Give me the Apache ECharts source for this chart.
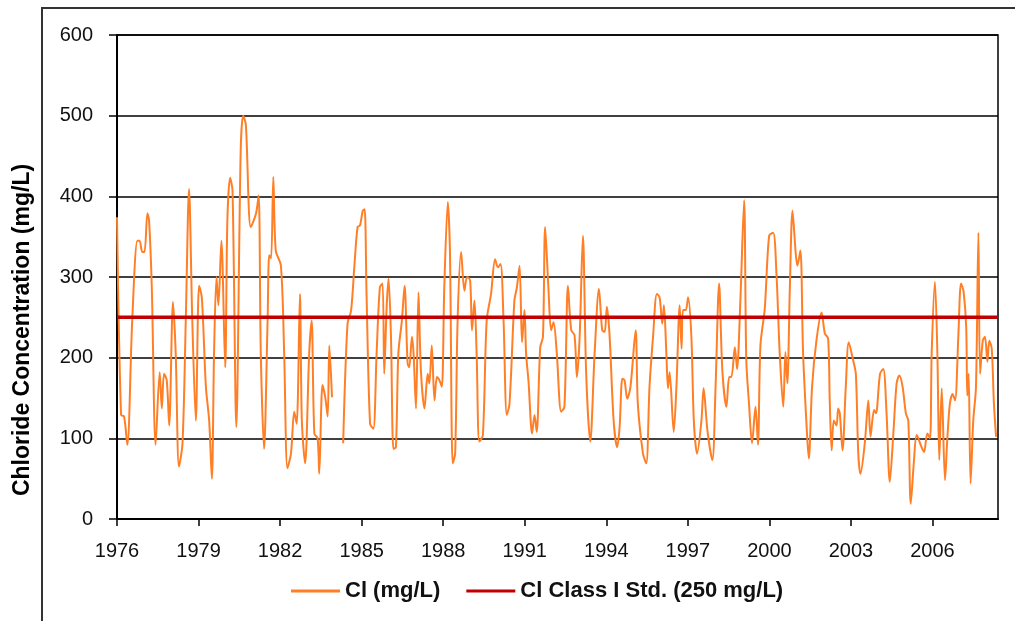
<!DOCTYPE html>
<html>
<head>
<meta charset="utf-8">
<script src="https://cdn.jsdelivr.net/npm/echarts@6/dist/echarts.min.js"></script>
<style>
html,body{margin:0;padding:0;background:#fff;}
#chart{width:1015px;height:621px;}
</style>
</head>
<body>
<div id="chart"></div>
<script>
// Decimal-year sample dates (null value = gap in record)
var years = [
1976.00,1976.15,1976.26,1976.38,1976.56,1976.75,1976.83,1976.93,1977.01,1977.12,1977.18,1977.28,1977.42,1977.57,1977.65,1977.73,1977.83,1977.92,
1978.06,1978.16,1978.28,1978.41,1978.53,1978.65,1978.77,1978.90,1979.02,1979.12,1979.27,1979.39,1979.49,1979.57,1979.66,1979.73,1979.84,1979.98,
1980.06,1980.16,1980.25,1980.39,1980.55,1980.64,1980.74,1980.92,1981.11,1981.21,1981.29,1981.41,1981.54,1981.60,1981.67,1981.75,1981.84,
1982.03,1982.15,1982.27,1982.40,1982.52,1982.61,1982.73,1982.80,1982.92,1983.07,1983.16,1983.26,1983.38,1983.44,1983.56,1983.66,1983.75,1983.81,1983.91,
1984.10,1984.32,1984.48,1984.61,1984.73,1984.85,1984.94,1985.04,1985.11,1985.18,1985.31,1985.43,1985.55,1985.67,1985.77,1985.83,1985.92,1985.99,
1986.08,1986.17,1986.26,1986.35,1986.48,1986.58,1986.69,1986.75,1986.85,1986.91,1987.00,1987.09,1987.18,1987.31,1987.43,1987.49,1987.58,1987.68,1987.77,1987.86,1987.95,
1988.04,1988.17,1988.25,1988.35,1988.44,1988.53,1988.66,1988.78,1988.88,1988.99,1989.06,1989.15,1989.23,1989.33,1989.46,1989.60,1989.76,1989.91,
1990.01,1990.11,1990.22,1990.34,1990.44,1990.62,1990.71,1990.81,1990.90,1990.99,1991.05,1991.14,1991.27,1991.36,1991.44,1991.57,1991.67,1991.75,1991.87,1991.97,
1992.06,1992.18,1992.34,1992.46,1992.59,1992.71,1992.83,1992.92,1993.02,1993.14,1993.26,1993.41,1993.57,1993.73,1993.85,1993.94,
1994.02,1994.12,1994.27,1994.40,1994.49,1994.59,1994.67,1994.77,1994.89,1995.08,1995.16,1995.35,1995.47,1995.59,1995.72,1995.86,1995.96,
1996.06,1996.12,1996.21,1996.27,1996.33,1996.48,1996.58,1996.70,1996.77,1996.82,1996.92,1997.01,1997.13,1997.22,1997.34,1997.50,1997.58,1997.72,1997.90,
1998.02,1998.15,1998.27,1998.42,1998.52,1998.60,1998.73,1998.81,1998.93,1999.07,1999.15,1999.25,1999.36,1999.49,1999.58,1999.67,1999.83,1999.99,
2000.14,2000.26,2000.38,2000.51,2000.59,2000.66,2000.75,2000.85,2000.97,2001.03,2001.14,2001.24,2001.39,2001.45,2001.57,2001.73,2001.92,
2002.04,2002.16,2002.22,2002.29,2002.37,2002.47,2002.53,2002.59,2002.69,2002.81,2002.92,2003.08,2003.18,2003.27,2003.35,2003.51,2003.64,2003.72,2003.85,2003.92,
2004.07,2004.19,2004.31,2004.43,2004.56,2004.68,2004.78,2004.90,2005.02,2005.11,2005.20,2005.32,2005.42,2005.60,2005.69,2005.81,2005.91,2005.97,
2006.09,2006.18,2006.25,2006.34,2006.46,2006.55,2006.64,2006.74,2006.83,2006.95,2007.05,2007.14,2007.24,2007.28,2007.33,2007.40,2007.50,2007.60,2007.69,2007.75,2007.85,2007.93,
2008.02,2008.09,2008.18,2008.26,2008.34
];
var chloride = [
374,129,127,92,246,345,345,331,331,379,370,287,92,182,137,180,172,116,
269,205,65,94,246,409,246,122,289,275,164,122,50,205,300,265,345,188,
370,423,407,114,456,500,489,362,378,401,205,87,246,327,323,424,333,
314,205,63,81,133,118,279,122,69,205,246,106,100,56,166,151,127,215,151,
null,94,242,258,312,362,364,382,384,279,118,112,205,287,292,180,263,298,
225,87,89,205,246,289,193,188,226,205,137,281,184,137,180,168,215,147,176,172,164,
287,393,329,69,81,246,331,283,300,296,234,271,205,96,104,246,279,322,
312,316,246,129,143,271,287,314,219,259,205,170,106,129,108,213,226,362,287,234,
244,205,133,139,289,234,228,176,226,351,180,96,205,285,234,232,
263,228,122,89,114,174,172,149,164,234,143,81,69,164,226,279,275,
242,265,205,162,182,108,164,265,211,259,259,275,226,122,81,122,162,110,73,
164,292,184,139,176,176,213,186,269,395,197,143,94,139,92,215,261,351,
355,304,205,139,207,168,283,382,329,314,333,205,102,75,164,221,256,
230,224,147,85,122,116,137,131,85,164,219,197,180,81,56,94,147,102,135,131,
180,186,131,46,106,168,178,164,131,122,19,73,104,89,83,106,100,205,
294,205,73,162,48,102,143,155,147,226,292,283,238,153,180,44,122,164,355,180,221,226,
195,221,211,143,102
];
var stdYears = [1976, 2008.41];
var stdValues = [250, 250];
var yTicks = [0, 100, 200, 300, 400, 500, 600];
var seriesNames = ['Cl (mg/L)', 'Cl Class I Std. (250 mg/L)'];
var yTitle = 'Chloride Concentration (mg/L)';

var clData = years.map(function (y, i) { return [y, chloride[i] === null ? '-' : chloride[i]]; });
var stdData = stdYears.map(function (y, i) { return [y, stdValues[i]]; });

var FONT = "'Liberation Sans', Arial, sans-serif";
var chart = echarts.init(document.getElementById('chart'), null, { renderer: 'canvas' });
chart.setOption({
  animation: false,
  backgroundColor: '#ffffff',
  grid: { left: 117, right: 17, top: 35, bottom: 102, show: true, borderColor: '#000', borderWidth: 1.5, backgroundColor: 'transparent' },
  xAxis: {
    type: 'value', min: 1976, max: 2008.41, interval: 3,
    axisLine: { show: true, lineStyle: { color: '#000', width: 2 } },
    axisTick: { show: true, length: 7, lineStyle: { color: '#000', width: 1.5 } },
    splitLine: { show: false },
    axisLabel: {
      show: true, margin: 22, fontSize: 20, color: '#111', fontFamily: FONT,
      showMaxLabel: false,
      formatter: function (v) { return (Math.abs(v - Math.round(v)) < 1e-6 && (Math.round(v) - 1976) % 3 === 0) ? String(Math.round(v)) : ''; }
    }
  },
  yAxis: {
    type: 'value', min: yTicks[0], max: yTicks[yTicks.length - 1], interval: 100,
    axisLine: { show: true, lineStyle: { color: '#000', width: 2 } },
    axisTick: { show: true, length: 8, lineStyle: { color: '#000', width: 1.5 } },
    splitLine: { show: true, lineStyle: { color: '#000', width: 1.5 } },
    axisLabel: { margin: 24, fontSize: 20, color: '#111', fontFamily: FONT }
  },
  legend: {
    left: 286, top: 575, itemWidth: 49, itemHeight: 3, itemGap: 26,
    textStyle: { fontSize: 22, fontWeight: 'bold', color: '#111', fontFamily: FONT },
    data: [
      { name: seriesNames[0], icon: 'rect' },
      { name: seriesNames[1], icon: 'rect' }
    ]
  },
  graphic: [
    { type: 'rect', silent: true, shape: { x: 42, y: 8, width: 1100, height: 1000 }, style: { fill: 'none', stroke: '#333', lineWidth: 2 } },
    { type: 'text', silent: true, x: 23, y: 330, rotation: Math.PI / 2,
      style: { text: yTitle, fontSize: 23, fontWeight: 'bold', fill: '#000', fontFamily: FONT, align: 'center', verticalAlign: 'middle' } }
  ],
  series: [
    { name: seriesNames[0], type: 'line', data: clData, symbol: 'none', smooth: 0.3, connectNulls: false,
      lineStyle: { color: '#FF7F27', width: 2 }, itemStyle: { color: '#FF7F27' }, z: 3 },
    { name: seriesNames[1], type: 'line', data: stdData, symbol: 'none',
      lineStyle: { color: '#C00000', width: 3.5 }, itemStyle: { color: '#C00000' }, z: 4 }
  ]
});
</script>
</body>
</html>
